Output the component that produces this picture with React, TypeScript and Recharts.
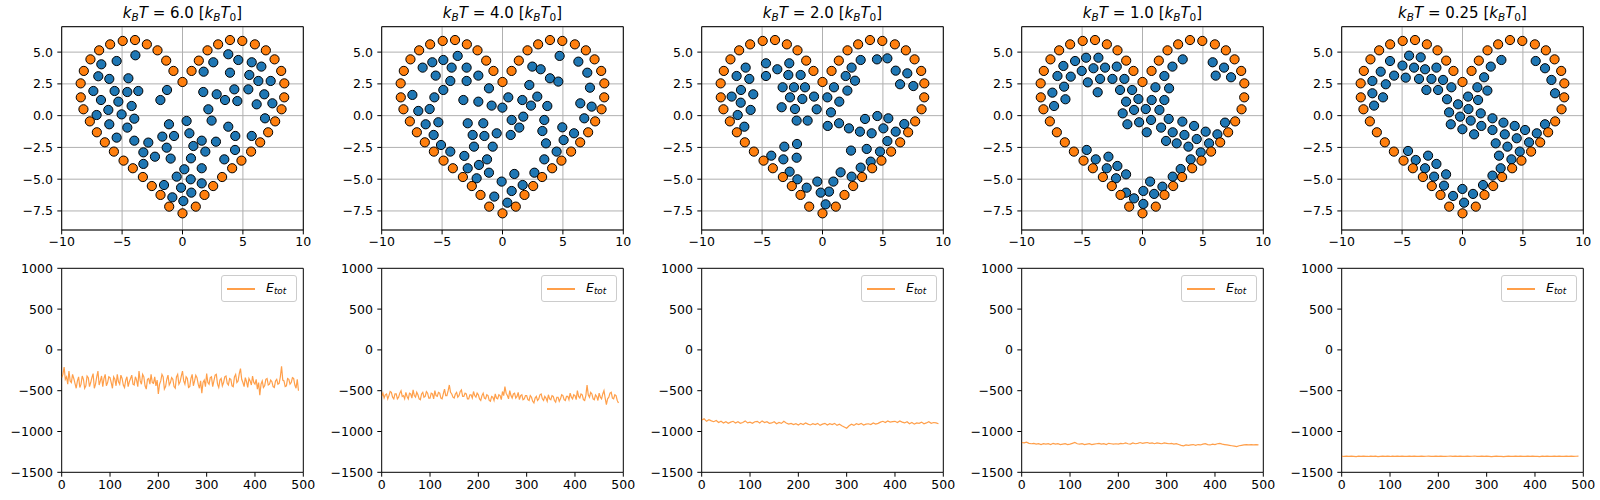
import { ScatterChart, Scatter, LineChart, Line, XAxis, YAxis, CartesianGrid, ReferenceArea } from 'recharts';

// temperatures shown in the panel titles
const temps = ['6.0', '4.0', '2.0', '1.0', '0.25'];

// fixed boundary particles (orange), same in every panel
const boundary: [number, number][] = [
  [0, 2.65], [0.75, 3.52], [1.35, 4.33], [2.07, 5.14], [2.95, 5.61], [3.93, 5.95], [4.95, 5.88],
  [5.99, 5.61], [6.9, 5.14], [7.62, 4.43], [8.17, 3.52], [8.43, 2.54], [8.42, 1.44], [8.2, 0.5],
  [7.67, -0.45], [7.09, -1.31], [6.43, -2.1], [5.68, -2.83], [4.88, -3.54], [4.11, -4.14],
  [3.28, -4.83], [2.54, -5.54], [1.82, -6.24], [1.1, -7.16], [0, -7.69],
  [-1.1, -7.16], [-1.82, -6.24], [-2.54, -5.54], [-3.28, -4.83], [-4.11, -4.14], [-4.88, -3.54],
  [-5.68, -2.83], [-6.43, -2.1], [-7.09, -1.31], [-7.67, -0.45], [-8.2, 0.5], [-8.42, 1.44],
  [-8.43, 2.54], [-8.17, 3.52], [-7.62, 4.43], [-6.9, 5.14], [-5.99, 5.61], [-4.95, 5.88],
  [-3.93, 5.95], [-2.95, 5.61], [-2.07, 5.14], [-1.35, 4.33], [-0.75, 3.52],
];

// free particles (blue) per temperature
const inner60: [number, number][] = [
  [-3.9, 4.75], [-5.45, 4.3], [-6.72, 4.04], [-6.97, 3.1], [-6.06, 2.89], [-4.48, 2.94], [-7.38, 1.94],
  [-5.62, 1.94], [-4.57, 1.86], [-3.66, 1.94], [-1.28, 2.02], [-1.83, 1.23], [-6.75, 1.23], [-5.31, 1.1],
  [-4.21, 0.76], [-7.11, 0.05], [-6.14, 0.45], [-5.04, 0.1], [-3.99, -0.24], [-6.06, -0.68], [-4.57, -0.94],
  [-5.45, -1.73], [-3.99, -1.97], [-2.83, -2.12], [-3.24, -2.89], [-2.28, -3.23], [-3.24, -3.8],
  [-1.12, -0.68], [-1.67, -1.65], [-0.7, -1.6], [-1.31, -2.52], [-0.98, -3.38], [0.34, -0.42], [0.57, -1.39],
  [0.9, -2.39], [0.7, -3.36], [1.59, -1.97], [1.89, -2.83], [1.59, -4.14], [-0.48, -4.8], [0.15, -4.22],
  [-0.12, -5.67], [0.68, -5.01], [-0.84, -6.43], [0.07, -6.72], [0.73, -6.06], [1.59, -5.33], [-1.53, -5.46],
  [3.79, 4.83], [2.55, 4.2], [1.75, 3.46], [3.93, 3.38], [4.62, 4.38], [5.73, 4.2], [6.53, 3.86],
  [5.53, 3.2], [6.28, 2.73], [7.3, 2.73], [4.29, 2.07], [5.45, 2.07], [1.72, 1.86], [2.83, 1.68],
  [3.52, 1.23], [4.54, 1.15], [6.77, 1.68], [7.44, 0.97], [6.14, 0.89], [2.14, 0.5], [6.83, -0.21],
  [2.41, -0.39], [3.79, -0.87], [4.37, -1.6], [5.73, -1.6], [2.77, -2.05], [4.35, -2.7], [3.46, -3.44],
];

const inner40: [number, number][] = [
  [-3.71, 4.7], [-4.9, 4.38], [-5.81, 4.2], [-6.61, 3.78], [-4.21, 3.78], [-2.97, 3.78], [-5.53, 3.15],
  [-2.0, 3.15], [-4.32, 2.73], [-2.97, 2.73], [-1.12, 2.15], [-4.9, 2.02], [-7.46, 1.63], [-5.64, 1.44],
  [-3.24, 1.23], [-2.0, 1.1], [-0.9, 0.79], [-6.97, 0.37], [-6.03, 0.52], [-5.31, -0.52], [-6.36, -0.68],
  [-2.88, -0.6], [-1.59, -0.6], [-5.7, -1.52], [-0.48, -1.39], [-2.47, -1.52], [-1.5, -1.6], [-5.09, -2.31],
  [-2.36, -2.44], [-0.81, -2.44], [-4.32, -2.83], [-3.16, -3.17], [-1.28, -3.44], [-2.88, -4.14],
  [-1.95, -3.88], [-2.14, -4.93], [-1.12, -4.49], [-0.07, -5.19], [0.76, -5.93], [0.4, -6.85],
  [-0.68, -6.37], [0.98, -4.59], [1.67, -5.46], [2.64, -4.49], [0.48, 1.44], [1.64, 1.23], [-0.01, 0.63],
  [0.76, -0.34], [1.39, -0.94], [1.72, -0.08], [0.68, -1.52], [2.22, 2.41], [2.47, 3.86], [2.88, 1.5],
  [2.36, 0.79], [3.16, 3.65], [3.93, 2.94], [4.62, 2.68], [3.46, -0.34], [3.3, -1.21], [3.6, -2.18],
  [3.46, -3.44], [4.48, -2.83], [4.95, -0.92], [5.06, -1.92], [5.92, -1.39], [6.77, -0.21], [7.38, 0.71],
  [6.44, 0.97], [7.24, 2.2], [7.02, 3.38], [6.28, 4.25], [4.73, 4.7], [3.71, 0.76],
];

const inner20: [number, number][] = [
  [-4.68, 4.12], [-2.75, 4.12], [-6.36, 3.78], [-3.74, 3.65], [-7.11, 3.12], [-6.06, 2.89], [-4.68, 3.12],
  [-2.83, 3.2], [-1.81, 3.2], [-3.3, 2.23], [-2.36, 2.23], [-1.45, 2.23], [-6.75, 2.02], [-7.52, 1.5],
  [-5.73, 1.68], [-2.69, 1.44], [-1.67, 1.31], [-0.7, 1.5], [-6.77, 1.02], [-5.95, 0.45], [-3.38, 0.66],
  [-2.28, 0.52], [-0.48, 0.5], [-7.02, 0.05], [-6.47, -0.87], [-2.14, -0.39], [-1.23, -0.39], [0.4, 1.44],
  [0.95, 2.23], [1.39, 1.1], [0.7, 0.26], [1.92, 3.12], [2.41, 3.78], [3.16, 4.38], [2.06, 1.97],
  [2.69, 2.75], [0.43, -0.81], [1.37, -0.6], [2.19, -1.0], [3.1, -1.26], [4.07, -1.39], [3.52, -0.26],
  [4.54, -0.03], [5.45, -0.21], [5.04, -1.0], [6.06, -1.26], [5.37, -2.0], [4.76, -2.83], [3.66, -2.62],
  [3.99, -3.62], [3.16, -4.09], [2.36, -2.75], [1.5, -4.46], [2.41, -4.8], [0.9, -5.19], [0.54, -5.98],
  [-0.15, -6.06], [-0.43, -5.19], [0.26, -6.98], [-1.31, -5.67], [-2.08, -5.01], [-2.72, -4.41],
  [-3.24, -3.44], [-2.14, -3.31], [-2.11, -2.23], [-3.16, -2.44], [-4.24, -3.15], [4.51, 4.43],
  [5.37, 4.51], [6.06, 3.54], [7.02, 3.33], [6.42, 2.47], [7.52, 2.33], [6.77, -0.66],
];

const inner10: [number, number][] = [
  [-4.67, 4.56], [-3.65, 4.56], [-5.58, 4.3], [-6.55, 3.91], [-5.03, 3.52], [-4.06, 3.73], [-3.1, 3.78],
  [-2.13, 3.86], [-7.04, 3.12], [-5.94, 3.07], [-4.53, 2.62], [-3.51, 2.89], [-2.49, 2.89], [-1.5, 2.89],
  [-7.46, 1.81], [-6.49, 2.28], [-3.71, 1.84], [-1.86, 2.02], [-0.86, 2.02], [-7.32, 0.76], [-6.38, 1.29],
  [-1.36, 1.1], [-0.34, 1.31], [-1.64, 0.18], [-0.7, 0.45], [-1.25, -0.68], [-0.28, -0.52], [0.76, 1.23],
  [0.27, 0.52], [0.71, -0.34], [0.35, -1.31], [1.4, 0.45], [1.07, 2.23], [1.81, 3.12], [2.2, 2.15],
  [2.48, 3.86], [3.33, 4.43], [1.81, 1.23], [2.17, -0.26], [1.54, -0.94], [1.95, -1.99], [2.83, -2.18],
  [2.5, -1.31], [3.3, -0.47], [3.47, -1.52], [4.27, -0.81], [3.8, -2.44], [4.49, -1.84], [5.23, -1.26],
  [5.51, -2.18], [4.82, -2.89], [3.99, -3.44], [3.16, -4.2], [2.5, -4.8], [1.65, -5.59], [0.96, -6.16],
  [0.07, -5.93], [0.63, -5.19], [0.07, -6.95], [-0.7, -6.51], [-1.36, -6.06], [-1.36, -4.62],
  [-2.08, -3.96], [-2.82, -3.23], [-2.19, -4.93], [-2.96, -4.14], [-3.87, -3.44], [-4.62, -2.7],
  [5.81, 4.2], [6.75, 3.78], [6.06, 3.15], [7.33, 3.02], [6.83, -0.55], [6.2, -1.47],
];

const inner025: [number, number][] = [
  [-4.42, 4.72], [-3.46, 4.59], [-6.0, 4.3], [-4.97, 3.94], [-4.01, 3.78], [-3.1, 3.65], [-2.16, 3.78],
  [-6.77, 3.46], [-5.66, 3.15], [-4.7, 2.99], [-3.6, 2.89], [-2.57, 2.89], [-1.61, 2.81], [-7.46, 2.73],
  [-6.35, 2.47], [-2.99, 2.02], [-2.02, 2.02], [-0.92, 2.23], [-7.46, 1.76], [-6.58, 1.44], [-7.32, 0.79],
  [-1.28, 1.29], [-0.37, 0.89], [0.46, 1.5], [1.23, 2.23], [1.79, 3.02], [2.34, 3.86], [3.22, 4.38],
  [2.06, 1.97], [1.29, 1.23], [0.49, 0.52], [-1.11, 0.26], [-0.2, -0.08], [-0.97, -0.68], [-0.01, -1.07],
  [1.51, 0.18], [0.68, -0.39], [1.56, -0.81], [0.96, -1.47], [2.48, -0.21], [2.48, -1.13], [3.39, -0.55],
  [3.5, -1.47], [4.32, -0.81], [2.75, -2.18], [3.72, -2.44], [4.49, -1.78], [5.18, -1.13], [5.51, -2.1],
  [4.74, -2.83], [4.05, -3.44], [3.02, -3.15], [3.16, -4.14], [2.48, -4.72], [1.7, -5.46], [0.87, -6.16],
  [-0.01, -5.77], [0.13, -6.85], [-0.78, -6.32], [-1.53, -5.51], [-2.35, -4.8], [-1.36, -4.62],
  [-3.1, -4.14], [-2.16, -3.8], [-3.87, -3.49], [-2.85, -3.15], [-4.51, -2.78], [6.06, 4.3], [6.83, 3.73],
  [7.36, 2.81], [7.66, 1.76], [6.83, -0.68], [6.15, -1.39],
];

// total energy; the two hottest runs are sampled every 2.5 steps, the rest every 5
const energy60 = [
  -340, -300, -210, -360, -330, -420, -260, -380, -400, -300, -350, -410, -470, -380, -330, -460, -420, -320, -360, -470,
  -440, -320, -340, -450, -400, -340, -290, -470, -420, -330, -260, -430, -380, -320, -450, -350, -300, -440, -400, -330,
  -340, -400, -470, -330, -360, -440, -300, -390, -420, -310, -350, -430, -460, -370, -330, -450, -390, -350, -310, -420,
  -430, -330, -370, -450, -260, -380, -420, -300, -330, -440, -480, -360, -350, -420, -300, -400, -410, -330, -440, -370,
  -540, -420, -380, -300, -330, -480, -450, -360, -310, -430, -400, -340, -360, -450, -470, -330, -300, -420, -390, -320,
  -260, -380, -420, -330, -350, -460, -450, -350, -300, -440, -380, -310, -340, -420, -470, -380, -530, -400, -370, -450,
  -290, -400, -420, -340, -330, -450, -380, -310, -300, -420, -460, -370, -350, -440, -400, -330, -320, -410, -430, -350,
  -360, -440, -450, -330, -300, -400, -380, -290, -230, -360, -400, -450, -340, -390, -460, -350, -380, -430, -320, -400,
  -420, -360, -480, -400, -555, -420, -380, -460, -440, -360, -350, -430, -420, -370, -390, -450, -460, -380, -360, -420,
  -410, -330, -200, -370, -380, -450, -440, -350, -360, -420, -400, -340, -350, -430, -470, -360, -500,
];
const energy40 = [
  -570, -530, -590, -550, -540, -600, -560, -510, -520, -580, -600, -540, -540, -600, -580, -530, -500, -570, -560, -600,
  -520, -570, -600, -530, -540, -590, -490, -560, -580, -520, -550, -600, -610, -540, -520, -580, -570, -510, -530, -590,
  -590, -530, -540, -600, -500, -560, -570, -520, -530, -590, -600, -540, -480, -560, -560, -500, -430, -520, -540, -580,
  -590, -540, -520, -580, -560, -510, -490, -570, -570, -530, -540, -600, -600, -550, -550, -590, -510, -560, -580, -530,
  -550, -600, -620, -560, -530, -590, -600, -550, -560, -620, -630, -570, -580, -620, -540, -590, -600, -550, -560, -610,
  -510, -560, -450, -530, -560, -600, -500, -560, -590, -540, -530, -590, -570, -520, -610, -560, -550, -610, -600, -560,
  -560, -610, -620, -560, -580, -630, -650, -590, -570, -620, -600, -550, -540, -600, -620, -570, -590, -630, -550, -600,
  -610, -560, -570, -620, -640, -580, -580, -630, -600, -550, -560, -610, -620, -570, -570, -610, -530, -580, -600, -550,
  -560, -610, -500, -570, -590, -540, -550, -610, -620, -560, -430, -550, -580, -520, -540, -600, -610, -550, -570, -620,
  -530, -580, -600, -540, -500, -590, -670, -600, -580, -530, -520, -590, -600, -550, -560, -620, -650,
];
const energy20 = [
  -860, -845, -875, -855, -870, -880, -865, -890, -875, -895,
  -880, -900, -885, -875, -895, -880, -900, -890, -870, -895,
  -885, -900, -880, -875, -895, -870, -890, -880, -900, -895,
  -880, -905, -890, -900, -875, -895, -910, -900, -915, -905,
  -920, -900, -915, -895, -910, -920, -905, -915, -900, -925,
  -910, -900, -920, -905, -915, -900, -925, -910, -930, -945,
  -960, -930, -910, -925, -905, -915, -900, -920, -910, -905,
  -915, -895, -910, -900, -885, -875, -890, -870, -885, -880,
  -875, -890, -870, -885, -895, -880, -905, -890, -910, -895,
  -900, -885, -905, -895, -880, -900, -890, -895, -905,
];
const energy10 = [
  -1135, -1140, -1130, -1145, -1150, -1145, -1155, -1150, -1160, -1150,
  -1155, -1150, -1160, -1145, -1155, -1150, -1160, -1155, -1150, -1160,
  -1155, -1145, -1135, -1150, -1155, -1150, -1160, -1155, -1150, -1160,
  -1155, -1150, -1145, -1155, -1150, -1160, -1145, -1150, -1155, -1150,
  -1155, -1145, -1150, -1140, -1150, -1155, -1140, -1150, -1145, -1135,
  -1145, -1140, -1135, -1145, -1140, -1150, -1140, -1145, -1150, -1140,
  -1145, -1150, -1145, -1155, -1150, -1160, -1170, -1175, -1165, -1170,
  -1165, -1160, -1170, -1160, -1165, -1155, -1150, -1160, -1165, -1155,
  -1160, -1150, -1145, -1155, -1160, -1165, -1170, -1175, -1180, -1185,
  -1175, -1170, -1165, -1160, -1165, -1160, -1165, -1160, -1165,
];
const energy025 = [
  -1302, -1306, -1303, -1305, -1301, -1304, -1307, -1303, -1305, -1302,
  -1304, -1306, -1302, -1305, -1303, -1307, -1304, -1302, -1305, -1303,
  -1306, -1302, -1304, -1301, -1305, -1303, -1306, -1304, -1302, -1305,
  -1303, -1306, -1304, -1302, -1305, -1303, -1301, -1304, -1306, -1303,
  -1305, -1302, -1304, -1306, -1303, -1301, -1304, -1302, -1305, -1303,
  -1306, -1304, -1302, -1305, -1303, -1300, -1304, -1306, -1303, -1305,
  -1302, -1304, -1307, -1305, -1303, -1306, -1304, -1308, -1305, -1303,
  -1306, -1304, -1302, -1305, -1303, -1306, -1304, -1302, -1305, -1303,
  -1306, -1304, -1307, -1303, -1305, -1302, -1304, -1306, -1303, -1305,
  -1302, -1304, -1306, -1303, -1305, -1302, -1304, -1303, -1302,
];

const innerSets = [inner60, inner40, inner20, inner10, inner025];
const energySets = [energy60, energy40, energy20, energy10, energy025];
const energySteps = [2.5, 2.5, 5, 5, 5];

const topXTicks = [-10, -5, 0, 5, 10];
const topYTicks = [-7.5, -5, -2.5, 0, 2.5, 5];
const botXTicks = [0, 100, 200, 300, 400, 500];
const botYTicks = [-1500, -1000, -500, 0, 500, 1000];

const FONT = '"DejaVu Sans", sans-serif';
const BLUE = '#1f77b4';
const ORANGE = '#ff7f0e';
const COL_W = 320;
const PLOT_L = 61.7;
const PLOT_W = 241.6;
const tickStyle = { fontFamily: FONT, fontSize: 12.5, fill: '#000' };
const minus = (s: string) => s.replace('-', '\u2212');

const toPts = (arr: [number, number][]) => arr.map(([x, y]) => ({ x, y }));
const toSeries = (vals: number[], step: number) => vals.map((e, i) => ({ step: i * step, e }));

const dot = (fill: string) => (p: any) => (
  <circle cx={p.cx} cy={p.cy} r={4.6} fill={fill} stroke="#000" strokeWidth={1} />
);

const subStyle = { fontSize: '0.7em', verticalAlign: '-0.25em' };

const Title = ({ t, col }: { t: string; col: number }) => (
  <div
    style={{
      position: 'absolute', left: col * COL_W + PLOT_L, top: 3, width: PLOT_W, height: 20,
      lineHeight: '20px', textAlign: 'center', fontFamily: FONT, fontSize: 15, color: '#000', whiteSpace: 'nowrap',
    }}
  >
    <i>k</i><sub style={{ ...subStyle, fontStyle: 'italic' }}>B</sub><i>T</i>
    {' = '}{t}{' ['}<i>k</i><sub style={{ ...subStyle, fontStyle: 'italic' }}>B</sub>
    <i>T</i><sub style={subStyle}>0</sub>{']'}
  </div>
);

const LegendBox = ({ col }: { col: number }) => (
  <div
    style={{
      position: 'absolute', left: col * COL_W + 221, top: 275, width: 75.7, height: 27.3, boxSizing: 'border-box',
      border: '1px solid #cccccc', borderRadius: 3, background: 'rgba(255,255,255,0.8)',
    }}
  >
    <div style={{ position: 'absolute', left: 5, top: 12.3, width: 27.6, height: 1.3, background: ORANGE, opacity: 0.75 }} />
    <div style={{ position: 'absolute', left: 44, top: 3, fontFamily: FONT, fontSize: 12.5, lineHeight: '18px', fontStyle: 'italic', whiteSpace: 'nowrap' }}>
      E<sub style={subStyle}>tot</sub>
    </div>
  </div>
);

const HeartPanel = ({ col }: { col: number }) => (
  <div style={{ position: 'absolute', left: col * COL_W, top: 0 }}>
    <ScatterChart width={COL_W} height={250} margin={{ top: 26.7, right: 16.7, left: 11.7, bottom: 0 }}>
      <CartesianGrid stroke="#b0b0b0" strokeWidth={1} />
      <XAxis
        type="number" dataKey="x" domain={[-10, 10]} ticks={topXTicks} interval={0} allowDataOverflow
        height={20} axisLine={false} tickSize={4.4} tickMargin={3} tick={tickStyle}
        tickLine={{ stroke: '#000' }} tickFormatter={(v) => minus(String(v))}
      />
      <YAxis
        type="number" dataKey="y" domain={[-9, 7]} ticks={topYTicks} interval={0} allowDataOverflow
        width={50} axisLine={false} tickSize={4.4} tickMargin={4.4} tick={tickStyle}
        tickLine={{ stroke: '#000' }} tickFormatter={(v) => minus(Number(v).toFixed(1))}
      />
      <ReferenceArea x1={-10} x2={10} y1={-9} y2={7} fill="none" stroke="#000" strokeWidth={1} />
      <Scatter data={toPts(innerSets[col])} shape={dot(BLUE)} isAnimationActive={false} />
      <Scatter data={toPts(boundary)} shape={dot(ORANGE)} isAnimationActive={false} />
    </ScatterChart>
  </div>
);

const EnergyPanel = ({ col }: { col: number }) => (
  <div style={{ position: 'absolute', left: col * COL_W, top: 250 }}>
    <LineChart
      width={COL_W} height={250} data={toSeries(energySets[col], energySteps[col])}
      margin={{ top: 18.3, right: 16.7, left: 11.7, bottom: 7.7 }}
    >
      <XAxis
        type="number" dataKey="step" domain={[0, 500]} ticks={botXTicks} interval={0} allowDataOverflow
        height={20} axisLine={false} tickSize={4.4} tickMargin={3} tick={tickStyle} tickLine={{ stroke: '#000' }}
      />
      <YAxis
        type="number" domain={[-1500, 1000]} ticks={botYTicks} interval={0} allowDataOverflow
        width={50} axisLine={false} tickSize={4.4} tickMargin={4.4} tick={tickStyle}
        tickLine={{ stroke: '#000' }} tickFormatter={(v) => minus(String(v))}
      />
      <ReferenceArea x1={0} x2={500} y1={-1500} y2={1000} fill="none" stroke="#000" strokeWidth={1} />
      <Line
        type="linear" dataKey="e" name="E_tot" stroke={ORANGE} strokeOpacity={0.75} strokeWidth={1.2}
        dot={false} isAnimationActive={false}
      />
    </LineChart>
  </div>
);

export default function App() {
  return (
    <div style={{ position: 'absolute', left: 0, top: 0, width: 1600, height: 500, background: '#fff', overflow: 'hidden' }}>
      {temps.map((t, i) => (
        <div key={t}>
          <HeartPanel col={i} />
          <EnergyPanel col={i} />
          <Title t={t} col={i} />
          <LegendBox col={i} />
        </div>
      ))}
    </div>
  );
}
